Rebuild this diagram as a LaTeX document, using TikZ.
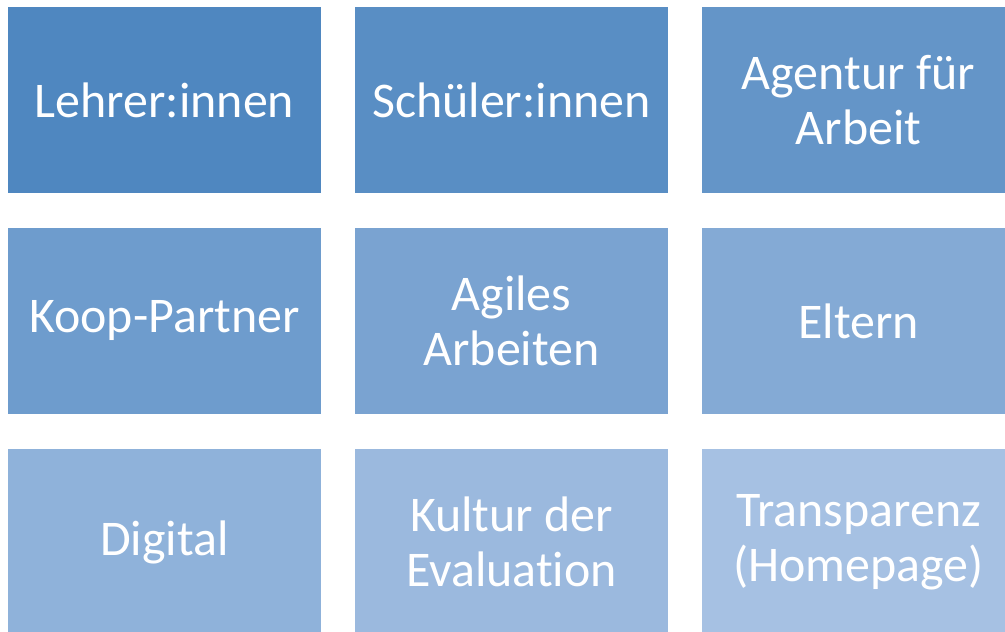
\documentclass[tikz,border=0pt]{standalone}
\usepackage{fontspec}
\setmainfont{Carlito}[Ligatures=CommonOff]
\usetikzlibrary{positioning}
\definecolor{anfang}{RGB}{79,135,192}
\definecolor{ende}{RGB}{166,193,227}
\colorlet{f0}{ende!0!anfang}
\colorlet{f1}{ende!12!anfang}
\colorlet{f2}{ende!24!anfang}
\colorlet{f3}{ende!36!anfang}
\colorlet{f4}{ende!49!anfang}
\colorlet{f5}{ende!61!anfang}
\colorlet{f6}{ende!74!anfang}
\colorlet{f7}{ende!87!anfang}
\colorlet{f8}{ende!100!anfang}
\tikzset{
  kachel/.style={fill=#1, text=white, minimum width=7.825cm, minimum height=4.65cm,
    inner sep=0pt, align=center, font=\fontsize{35.5}{39}\selectfont},
}
\begin{document}
\begin{tikzpicture}[x=0.025cm,y=-0.025cm]
  \useasboundingbox (0,0) rectangle (1005,631);
  \clip (0,0) rectangle (1005,631);
  % obere Reihe
  \node[kachel=f0] (lehrer) at (164.5,100) {Lehrer:innen};
  \node[kachel=f1] (schueler) at (511.5,100) {Schüler:innen};
  \node[kachel=f2] (agentur) at (858.5,100) {Agentur für\\Arbeit};
  % mittlere Reihe
  \node[kachel=f3] (koop) at (164.5,321) {Koop-Partner};
  \node[kachel=f4] (agil) at (511.5,321) {Agiles\\Arbeiten};
  \node[kachel=f5] (eltern) at (858.5,321) {Eltern};
  % untere Reihe
  \node[kachel=f6] (digital) at (164.5,542) {Digital};
  \node[kachel=f7] (kultur) at (511.5,542) {Kultur der\\Evaluation};
  \node[kachel=f8] (transparenz) at (858.5,542) {Transparenz\\(Homepage)};
\end{tikzpicture}
\end{document}
